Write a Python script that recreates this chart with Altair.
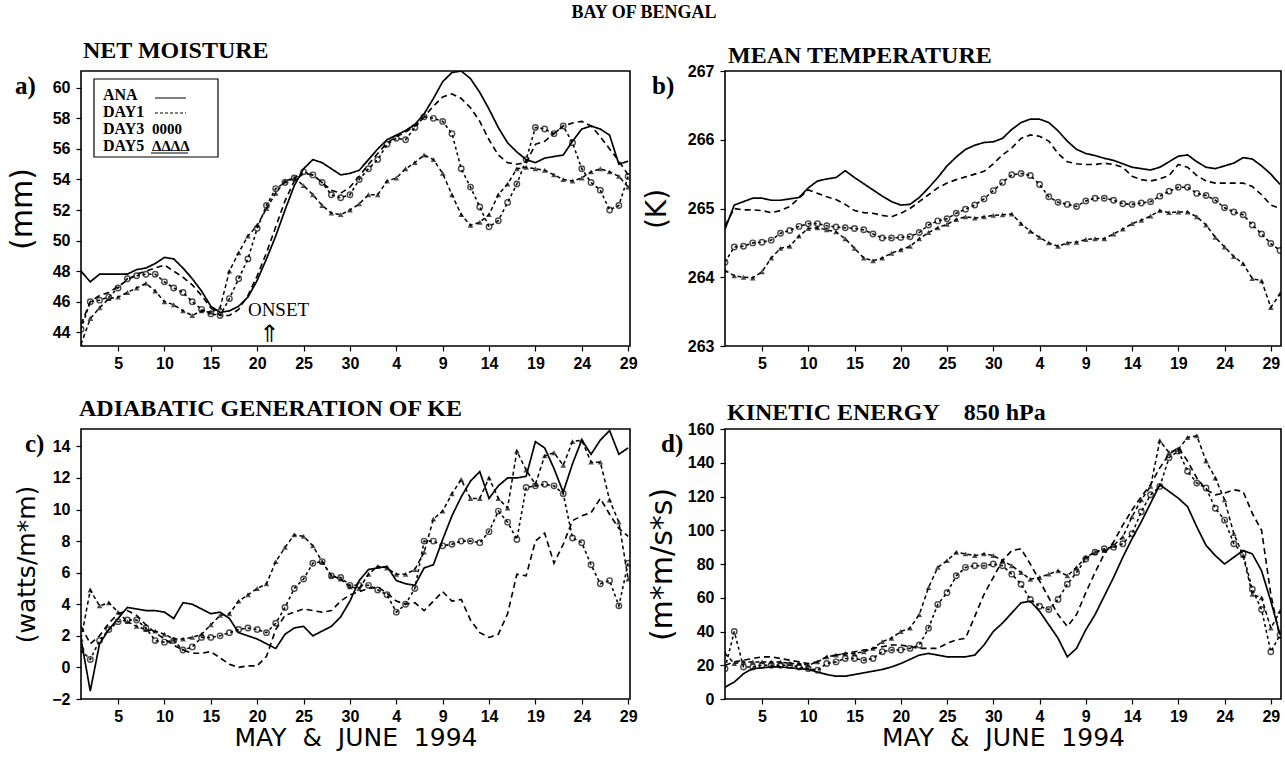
import json
import altair as alt
import pandas as pd

SERIES = ["ANA", "DAY1", "DAY3", "DAY5"]
TICK_DAYS = [5, 10, 15, 20, 25, 30, 35, 40, 45, 50, 55, 60]
TICK_LABELS = ["5", "10", "15", "20", "25", "30", "4", "9", "14", "19", "24", "29"]

# (a) net moisture (mm), daily from 1 May
moist_ana = [48.0, 47.3, 47.8, 47.8, 47.8, 47.8, 48.1, 48.2, 48.5, 48.9,
             48.8, 48.2, 47.5, 46.7, 45.7, 45.3, 45.4, 45.7, 46.3, 47.4,
             48.8, 50.3, 52.0, 53.6, 54.7, 55.3, 55.1, 54.7, 54.3, 54.4,
             54.6, 55.3, 56.0, 56.6, 56.9, 57.2, 57.6, 58.3, 59.3, 60.4,
             61.0, 61.1, 60.6, 59.7, 58.6, 57.4, 56.4, 55.8, 55.3, 55.1,
             55.4, 55.5, 55.6, 56.5, 57.3, 57.5, 57.3, 56.9, 55.0, 55.2]
moist_day1 = [44.5, 46.0, 46.4, 46.6, 47.0, 47.4, 47.8, 48.0, 48.2, 48.4,
              48.0, 47.6, 47.1, 46.4, 45.6, 45.1, 45.1, 45.5, 46.4, 47.7,
              49.2, 50.9, 52.6, 53.9, 54.4, 54.3, 53.8, 53.3, 53.1, 53.5,
              54.2, 55.0, 55.7, 56.4, 56.8, 57.1, 57.5, 58.1, 58.8, 59.4,
              59.6, 59.3, 58.7, 57.8, 56.6, 55.6, 55.1, 55.0, 55.1, 56.3,
              56.5, 57.0, 57.5, 57.7, 57.8, 57.5, 56.8, 56.0, 55.2, 54.3]
moist_day3 = [44.2, 46.0, 46.1, 46.3, 46.9, 47.5, 47.7, 47.8, 47.8, 47.3,
              46.9, 46.6, 46.0, 45.5, 45.2, 45.1, 46.2, 47.5, 48.8, 50.8,
              52.3, 53.4, 53.8, 54.1, 54.5, 54.3, 53.8, 53.0, 52.8, 53.0,
              54.0, 54.7, 55.3, 56.3, 56.7, 56.6, 57.4, 58.1, 58.0, 57.8,
              57.0, 54.7, 53.5, 52.2, 50.9, 51.3, 52.5, 53.7, 55.3, 57.4,
              57.3, 57.0, 57.5, 56.4, 54.7, 53.8, 53.3, 52.0, 52.3, 54.2]
moist_day5 = [43.2, 44.9, 45.6, 46.2, 46.3, 46.6, 46.9, 47.2, 46.7, 46.0,
              45.8, 45.4, 45.1, 45.4, 45.3, 45.6, 48.0, 49.2, 50.3, 51.0,
              52.1, 53.1, 53.9, 54.1, 53.6, 53.0, 52.3, 51.8, 51.7, 52.0,
              52.4, 53.0, 53.0, 53.9, 54.1, 54.7, 55.1, 55.6, 55.3, 54.4,
              53.0, 51.7, 51.0, 51.2, 51.7, 53.0, 53.7, 54.7, 54.8, 54.7,
              54.6, 54.3, 54.0, 53.9, 54.1, 54.5, 54.7, 54.5, 54.2, 53.5]

# (b) mean temperature (K)
temp_ana = [264.7, 265.05, 265.1, 265.15, 265.15, 265.12, 265.12, 265.14, 265.16, 265.3,
            265.4, 265.43, 265.45, 265.55, 265.45, 265.36, 265.27, 265.18, 265.1, 265.05,
            265.06, 265.16, 265.3, 265.45, 265.62, 265.75, 265.86, 265.92, 265.96, 265.97,
            266.02, 266.15, 266.25, 266.3, 266.3, 266.25, 266.13, 265.98, 265.86, 265.8,
            265.77, 265.73, 265.7, 265.65, 265.6, 265.58, 265.56, 265.6, 265.68, 265.76,
            265.78, 265.68, 265.6, 265.58, 265.62, 265.66, 265.74, 265.72, 265.62, 265.5, 265.35]
temp_day1 = [264.75, 265.0, 264.98, 264.98, 264.97, 264.94, 264.97, 265.03, 265.15, 265.27,
             265.22, 265.17, 265.13, 265.06, 264.97, 264.94, 264.93, 264.9, 264.88, 264.93,
             265.0, 265.1, 265.2, 265.3, 265.37, 265.42, 265.46, 265.5, 265.54, 265.65,
             265.78, 265.88, 266.02, 266.07, 266.05, 265.98, 265.8, 265.68, 265.65, 265.64,
             265.64, 265.66, 265.64, 265.6, 265.47, 265.42, 265.4, 265.43, 265.48, 265.64,
             265.6, 265.48, 265.4, 265.37, 265.37, 265.37, 265.37, 265.32, 265.2, 265.05, 265.0]
temp_day3 = [264.22, 264.44, 264.45, 264.5, 264.51, 264.54, 264.64, 264.68, 264.74, 264.78,
             264.78, 264.75, 264.73, 264.72, 264.71, 264.69, 264.63, 264.57, 264.57, 264.58,
             264.59, 264.65, 264.76, 264.82, 264.85, 264.93, 264.99, 265.05, 265.14, 265.26,
             265.38, 265.49, 265.51, 265.48, 265.35, 265.17, 265.09, 265.06, 265.03, 265.11,
             265.15, 265.15, 265.12, 265.07, 265.06, 265.08, 265.1, 265.18, 265.25, 265.31,
             265.31, 265.22, 265.19, 265.12, 265.01, 264.95, 264.91, 264.76, 264.63, 264.49, 264.39]
temp_day5 = [264.1, 264.02, 264.0, 263.99, 264.08, 264.28, 264.42, 264.45, 264.6, 264.71,
             264.72, 264.69, 264.66, 264.56, 264.42, 264.28, 264.24, 264.28, 264.35, 264.4,
             264.45, 264.56, 264.65, 264.72, 264.77, 264.84, 264.88, 264.86, 264.88, 264.9,
             264.91, 264.92, 264.78, 264.67, 264.58, 264.5, 264.45, 264.5, 264.51, 264.55,
             264.56, 264.56, 264.63, 264.7, 264.78, 264.83, 264.89, 264.97, 264.94, 264.95,
             264.95, 264.88, 264.76, 264.58, 264.44, 264.3, 264.2, 263.98, 263.95, 263.56, 263.76]

# (c) adiabatic generation of KE (watts/m*m)
gen_ana = [1.8, -1.5, 1.5, 2.4, 3.1, 3.8, 3.7, 3.6, 3.6, 3.5,
           3.1, 4.1, 4.0, 3.7, 3.4, 3.5, 3.1, 2.2, 2.0, 1.8,
           1.5, 1.2, 2.1, 2.5, 2.6, 2.0, 2.3, 2.6, 3.2, 4.2,
           5.5, 6.2, 6.3, 6.4, 5.5, 5.3, 5.2, 6.3, 6.5, 8.1,
           9.6, 10.8, 11.8, 12.4, 10.7, 11.5, 12.0, 12.0, 12.1, 14.3,
           13.9, 12.6, 11.1, 12.9, 14.4, 13.5, 14.4, 15.0, 13.5, 13.9]
gen_day1 = [2.6, 1.5, 2.0, 2.8, 3.4, 3.6, 3.3, 2.7, 2.2, 1.8,
            1.4, 1.1, 0.9, 0.9, 1.0, 0.6, 0.2, 0.0, 0.1, 0.1,
            0.7, 2.4, 3.3, 3.5, 3.7, 3.6, 3.5, 3.6, 4.2, 4.6,
            4.8, 5.0, 5.1, 4.7, 4.2, 4.0, 4.1, 3.6, 4.2, 4.8,
            4.2, 4.3, 3.0, 2.2, 1.9, 2.1, 3.4, 5.9, 5.8, 8.0,
            8.5, 6.6, 7.8, 9.3, 9.6, 9.8, 10.7, 9.7, 8.8, 8.3]
gen_day3 = [1.1, 0.5, 1.7, 2.4, 2.9, 3.0, 3.0, 2.5, 1.7, 1.6,
            1.7, 1.1, 1.3, 1.9, 1.9, 2.0, 2.2, 2.4, 2.5, 2.4,
            2.2, 2.8, 3.8, 5.0, 5.6, 6.6, 6.7, 5.8, 5.7, 5.2,
            5.2, 5.2, 4.9, 4.6, 3.5, 4.0, 5.0, 8.0, 8.0, 7.7,
            7.8, 8.0, 8.0, 7.9, 8.6, 9.9, 9.2, 8.1, 11.4, 11.5,
            11.6, 11.5, 11.0, 8.2, 7.9, 6.5, 5.3, 5.5, 3.9, 6.6]
gen_day5 = [1.8, 4.9, 3.9, 4.1, 3.5, 2.9, 2.6, 2.4, 2.3, 2.1,
            1.8, 1.8, 1.9, 2.1, 2.7, 3.3, 3.4, 4.2, 4.6, 5.0,
            5.3, 6.7, 7.6, 8.4, 8.3, 7.7, 6.7, 5.8, 5.6, 5.1,
            5.0, 5.9, 6.4, 6.3, 5.9, 5.9, 6.2, 7.3, 9.4, 9.9,
            11.0, 11.9, 10.7, 10.7, 12.0, 10.7, 10.1, 13.7, 12.5, 11.6,
            13.4, 13.6, 12.8, 14.3, 14.4, 13.0, 13.0, 10.6, 9.2, 5.6]

# (d) kinetic energy at 850 hPa (m*m/s*s)
ke_ana = [7, 10, 15, 18, 18.5, 19, 19, 18.5, 18, 17.5,
          16, 14.5, 13.5, 13.5, 14.5, 15.5, 16.5, 17.5, 19, 21,
          23.5, 26, 27, 26, 25, 25, 25, 26, 32, 40,
          45, 51, 57, 58, 52, 44, 36, 25, 30, 41,
          50, 61, 72, 84, 95, 105, 116, 127, 123, 119,
          114, 102, 91, 85, 80, 84, 88, 86, 76, 58, 38]
ke_day1 = [20, 22, 23, 24, 25, 25, 24, 23, 22, 21,
           22, 25, 26, 27, 28, 29, 30, 31, 32, 32,
           31, 30, 30, 30, 33, 35, 36, 49, 62, 72,
           82, 88, 89, 80, 70, 60, 50, 43, 50, 63,
           75, 86, 93, 103, 112, 120, 127, 137, 145, 149,
           141, 131, 124, 121, 122, 124, 123, 110, 100, 62, 36]
ke_day3 = [18, 40, 19, 19, 20, 20, 20, 20, 19, 18,
           17, 21, 22, 24, 24, 23, 24, 28, 29, 29,
           30, 32, 42, 56, 63, 73, 78, 79, 79, 80,
           79, 74, 68, 59, 55, 53, 59, 68, 75, 83,
           87, 89, 90, 92, 98, 111, 121, 126, 143, 147,
           135, 128, 125, 113, 106, 92, 86, 65, 53, 28, 38]
ke_day5 = [27, 21, 22, 22, 22, 22, 22, 21, 21, 20,
           22, 25, 26, 27, 27, 28, 30, 34, 36, 40,
           42, 50, 66, 78, 82, 87, 86, 85, 86, 85,
           82, 79, 75, 71, 72, 74, 76, 73, 78, 84,
           87, 88, 91, 96, 108, 118, 126, 153, 146, 148,
           155, 156, 141, 131, 118, 98, 85, 62, 60, 42, 52]

LEGEND_NAMES = ["ANA", "DAY1", "DAY3", "DAY5"]
LEGEND_SYMBOLS = ["0000", "ΔΔΔΔ"]

SERIF = "Liberation Serif"
SANS = "Liberation Sans"
WIDE = "DejaVu Sans"
X_TITLE = "MAY\u00a0\u00a0&\u00a0\u00a0JUNE\u00a0\u00a01994"

label_expr = json.dumps(TICK_LABELS) + "[round(datum.value / 5) - 1]"


def long_table(series_values):
    rows = []
    for name, vals in zip(SERIES, series_values):
        for i, v in enumerate(vals):
            rows.append({"day": i + 1, "value": v, "series": name})
    return pd.DataFrame(rows)


def one_text(text, **mark):
    return alt.Chart(pd.DataFrame({"t": [text]})).mark_text(color="black", **mark)


AXIS_STYLE = dict(
    domain=False, grid=False, tickColor="black", tickWidth=1.2, tickSize=5,
    labelFont=SANS, labelFontWeight="bold", labelFontSize=16, labelColor="black",
    labelOverlap=False, titleFont=WIDE, titleFontWeight="normal", titleColor="black",
)


def panel(df, title, title_dx, title_dy, letter, letter_dx, xmax, ydomain, yticks, ytitle,
          ytitle_size, title_gap, width, height, xtitle, notes=(), extras=()):
    x_scale = alt.Scale(domain=[1, xmax], nice=False, zero=False)
    y_scale = alt.Scale(domain=ydomain, nice=False, zero=False)
    x_axis = alt.Axis(values=TICK_DAYS, labelExpr=label_expr, title=xtitle,
                      titleY=46, titleBaseline="alphabetic", titleFontSize=25,
                      labelPadding=4, **AXIS_STYLE)
    y_axis = alt.Axis(values=yticks, title=ytitle, titleX=-title_gap,
                      titleY=height / 2, titleAngle=270, titleAlign="center",
                      titleBaseline="bottom", titleFontSize=ytitle_size, labelPadding=6,
                      **AXIS_STYLE)
    x = alt.X("day:Q", scale=x_scale, axis=x_axis)
    y = alt.Y("value:Q", scale=y_scale, axis=y_axis)
    base = alt.Chart(df)
    lines = base.mark_line(color="black", clip=True).encode(
        x=x, y=y,
        strokeDash=alt.StrokeDash("series:N", legend=None, scale=alt.Scale(
            domain=SERIES, range=[[1, 0], [6, 4], [3, 3], [4, 3]])),
        strokeWidth=alt.StrokeWidth("series:N", legend=None, scale=alt.Scale(
            domain=SERIES, range=[1.7, 1.5, 1.2, 1.2])),
    )
    circles = base.transform_filter(alt.datum.series == "DAY3").mark_point(
        shape="circle", filled=False, color="black", size=30, strokeWidth=1.4, clip=True
    ).encode(x=x, y=y)
    triangles = base.transform_filter(alt.datum.series == "DAY5").mark_point(
        shape="triangle-up", filled=True, color="black", size=32, clip=True
    ).encode(x=x, y=y)
    tag = one_text(letter, font=SERIF, fontWeight="bold", fontSize=25, align="left",
                   baseline="middle").encode(text="t:N", x=alt.value(letter_dx), y=alt.value(15))
    note_layers = []
    for text, day, val, mark in notes:
        note_layers.append(one_text(text, align="center", baseline="middle", **mark).encode(
            text="t:N",
            x=alt.XDatum(day, scale=x_scale, axis=x_axis),
            y=alt.YDatum(val, scale=y_scale, axis=y_axis),
        ))
    return alt.layer(lines, circles, triangles, tag, *note_layers, *extras).properties(
        width=width, height=height,
        title=alt.TitleParams(title, anchor="start", frame="group", dx=title_dx, dy=title_dy,
                              font=SERIF, fontSize=24, fontWeight="bold", offset=8,
                              color="black"),
    )


# inset key for panel (a)
key_box = alt.Chart(pd.DataFrame({"t": [0]})).mark_rect(
    fillOpacity=0, stroke="black", strokeWidth=1.2
).encode(x=alt.value(13), x2=alt.value(137), y=alt.value(8), y2=alt.value(86))
key_layers = [key_box]
for i, name in enumerate(LEGEND_NAMES):
    key_layers.append(one_text(name, font=SERIF, fontWeight="bold", fontSize=16,
                               align="left", baseline="middle")
                      .encode(text="t:N", x=alt.value(22), y=alt.value(24 + 17 * i)))
key_layers.append(alt.Chart(pd.DataFrame({"t": [0]})).mark_rule(color="black", strokeWidth=1)
                  .encode(x=alt.value(74), x2=alt.value(105), y=alt.value(27)))
key_layers.append(alt.Chart(pd.DataFrame({"t": [0]})).mark_rule(color="black", strokeWidth=1,
                                                                strokeDash=[3, 2])
                  .encode(x=alt.value(74), x2=alt.value(105), y=alt.value(42)))
for i, sym in enumerate(LEGEND_SYMBOLS):
    key_layers.append(one_text(sym, font=SERIF, fontWeight="bold", fontSize=15,
                               align="left", baseline="middle")
                      .encode(text="t:N", x=alt.value(71), y=alt.value(58 + 17 * i)))
key_layers.append(alt.Chart(pd.DataFrame({"t": [0]})).mark_rule(color="black", strokeWidth=1)
                  .encode(x=alt.value(70), x2=alt.value(107), y=alt.value(82)))

onset_notes = [
    ("ONSET", 22.3, 45.45, dict(font=SERIF, fontSize=19)),
    ("⇑", 21.3, 43.85, dict(font=WIDE, fontSize=24)),
]

pa = panel(long_table([moist_ana, moist_day1, moist_day3, moist_day5]),
           "NET MOISTURE", 2, 0, "a)", -66, 60.2, [43.1, 61.1], list(range(44, 61, 2)),
           "(mm)", 30, 44, 549, 275, "", notes=onset_notes, extras=key_layers)
pb = panel(long_table([temp_ana, temp_day1, temp_day3, temp_day5]),
           "MEAN TEMPERATURE", 3, 13, "b)", -73, 61.1, [263, 267], [263, 264, 265, 266, 267],
           "(K)", 28, 54, 556, 275, "")
pc = panel(long_table([gen_ana, gen_day1, gen_day3, gen_day5]),
           "ADIABATIC GENERATION OF KE", -2, 0, "c)", -56, 60.2, [-2, 15.1],
           list(range(-2, 15, 2)), "(watts/m*m)", 25, 42, 549, 270, X_TITLE)
pd_ = panel(long_table([ke_ana, ke_day1, ke_day3, ke_day5]),
            "KINETIC ENERGY\u00a0\u00a0\u00a0\u00a0850 hPa", 2, 12, "d)", -64, 61.1, [0, 160],
            list(range(0, 161, 20)), "(m*m/s*s)", 30, 48, 556, 270, X_TITLE)

chart = alt.concat(
    pa, pb, pc, pd_, columns=2, spacing={"row": 83, "column": 95}, bounds="flush",
).properties(
    title=alt.TitleParams("BAY OF BENGAL", anchor="middle", font=SERIF, fontSize=18,
                          fontWeight="bold", color="black", offset=16),
    padding={"left": 6, "top": 4, "right": 2, "bottom": 2},
).configure_view(
    stroke="black", strokeWidth=1.6
)

chart.save("out.html", embed_options={"renderer": "svg", "actions": False})
